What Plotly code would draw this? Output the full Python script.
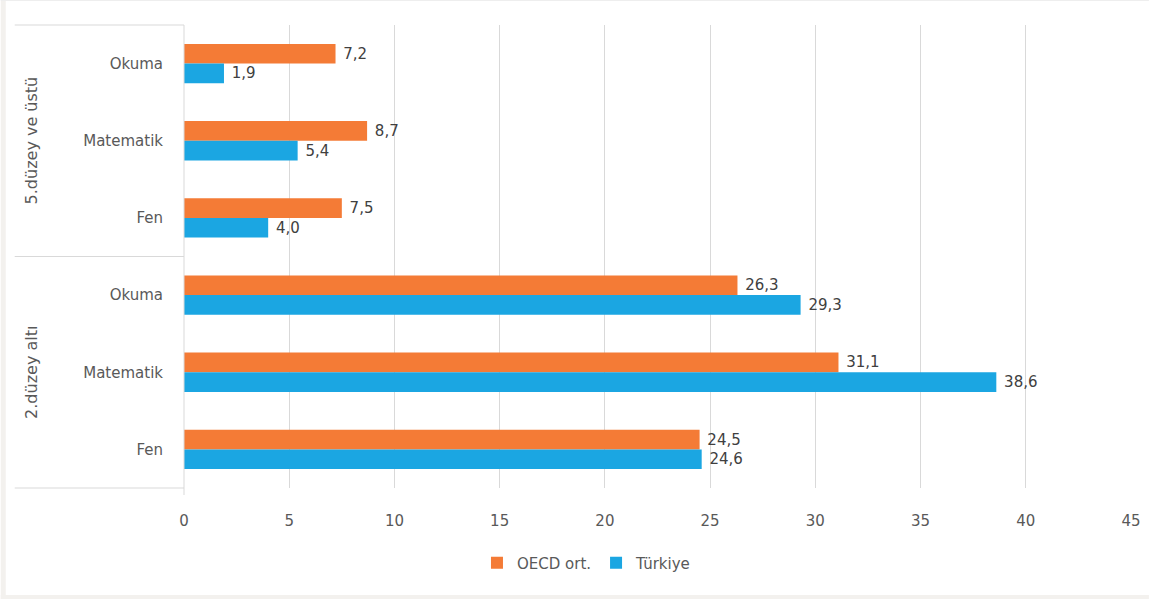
import plotly.graph_objects as go

# Data
groups = ["5.düzey ve üstü", "2.düzey altı"]
subjects = ["Okuma", "Matematik", "Fen", "Okuma", "Matematik", "Fen"]
oecd = [7.2, 8.7, 7.5, 26.3, 31.1, 24.5]
turkiye = [1.9, 5.4, 4.0, 29.3, 38.6, 24.6]
series_names = ["OECD ort.", "Türkiye"]
x_ticks = [0, 5, 10, 15, 20, 25, 30, 35, 40, 45]

ORANGE = "#F47B36"
BLUE = "#1BA6E2"
TEXT = "#404040"
LABEL = "#595959"
FONT = "DejaVu Sans"

W, H = 1153, 599
ML, MR, MT, MB = 184, 18, 25, 111
PW, PH = W - ML - MR, H - MT - MB

positions = list(range(len(subjects)))


def fmt(v):
    # comma decimal, padded away from the bar end
    return "\u00a0" + f"{v:.1f}".replace(".", ",")


fig = go.Figure()
for name, vals, col in [(series_names[0], oecd, ORANGE), (series_names[1], turkiye, BLUE)]:
    fig.add_trace(go.Bar(
        name=name, orientation="h", y=positions, x=vals,
        marker=dict(color=col, line=dict(width=0)),
        text=[fmt(v) for v in vals], textposition="outside",
        textfont=dict(family=FONT, size=15, color=TEXT),
        cliponaxis=False,
    ))


def px_x(px):
    return (px - ML) / PW


def px_y(py):
    return 1 - (py - MT) / PH


shapes = []
# Separators of the two-level category axis
for frac in [0, 0.5, 1]:
    y = 1 - frac
    shapes.append(dict(type="line", xref="paper", yref="paper",
                       x0=px_x(14), x1=0, y0=y, y1=y,
                       line=dict(color="#D9D9D9", width=1)))
# Vertical axis line, extended slightly below the plot
shapes.append(dict(type="line", xref="paper", yref="paper",
                   x0=0, x1=0, y0=px_y(495), y1=1,
                   line=dict(color="#D9D9D9", width=1)))
# Page frame
shapes.append(dict(type="rect", xref="paper", yref="paper",
                   x0=px_x(0), x1=px_x(5), y0=px_y(H), y1=px_y(0),
                   fillcolor="#F3F1EE", line=dict(width=0), layer="below"))
shapes.append(dict(type="rect", xref="paper", yref="paper",
                   x0=px_x(0), x1=px_x(W), y0=px_y(H), y1=px_y(595),
                   fillcolor="#F3F1EE", line=dict(width=0), layer="below"))
shapes.append(dict(type="rect", xref="paper", yref="paper",
                   x0=px_x(0), x1=px_x(W), y0=px_y(1), y1=px_y(0),
                   fillcolor="#EEEEEE", line=dict(width=0), layer="below"))

annotations = []
for i, g in enumerate(groups):
    annotations.append(dict(
        text=g, xref="paper", yref="paper", x=px_x(31), y=1 - (0.25 + 0.5 * i),
        showarrow=False, textangle=-90, xanchor="center", yanchor="middle",
        font=dict(family=FONT, size=16, color=LABEL),
    ))

fig.update_layout(
    width=W, height=H,
    margin=dict(l=ML, r=MR, t=MT, b=MB),
    paper_bgcolor="white", plot_bgcolor="white",
    barmode="group", bargap=0.49, bargroupgap=0.0,
    font=dict(family=FONT, color=LABEL),
    xaxis=dict(range=[0, 45], tickvals=x_ticks, ticktext=[str(t) for t in x_ticks],
               showgrid=True, gridcolor="#D9D9D9", gridwidth=1,
               zeroline=False, showline=False, ticks="",
               tickfont=dict(family=FONT, size=15, color=LABEL),
               ticklabelstandoff=22),
    yaxis=dict(range=[len(subjects) - 0.5, -0.5], tickvals=positions, ticktext=subjects,
               showgrid=False, zeroline=False, showline=False, ticks="",
               tickfont=dict(family=FONT, size=15, color=LABEL),
               ticklabelstandoff=20),
    legend=dict(orientation="h", x=0.425, xanchor="center", y=px_y(563), yanchor="middle",
                font=dict(family=FONT, size=15, color=LABEL),
                itemwidth=30, traceorder="normal"),
    shapes=shapes, annotations=annotations,
    showlegend=True,
)

fig.write_html("out.html")
